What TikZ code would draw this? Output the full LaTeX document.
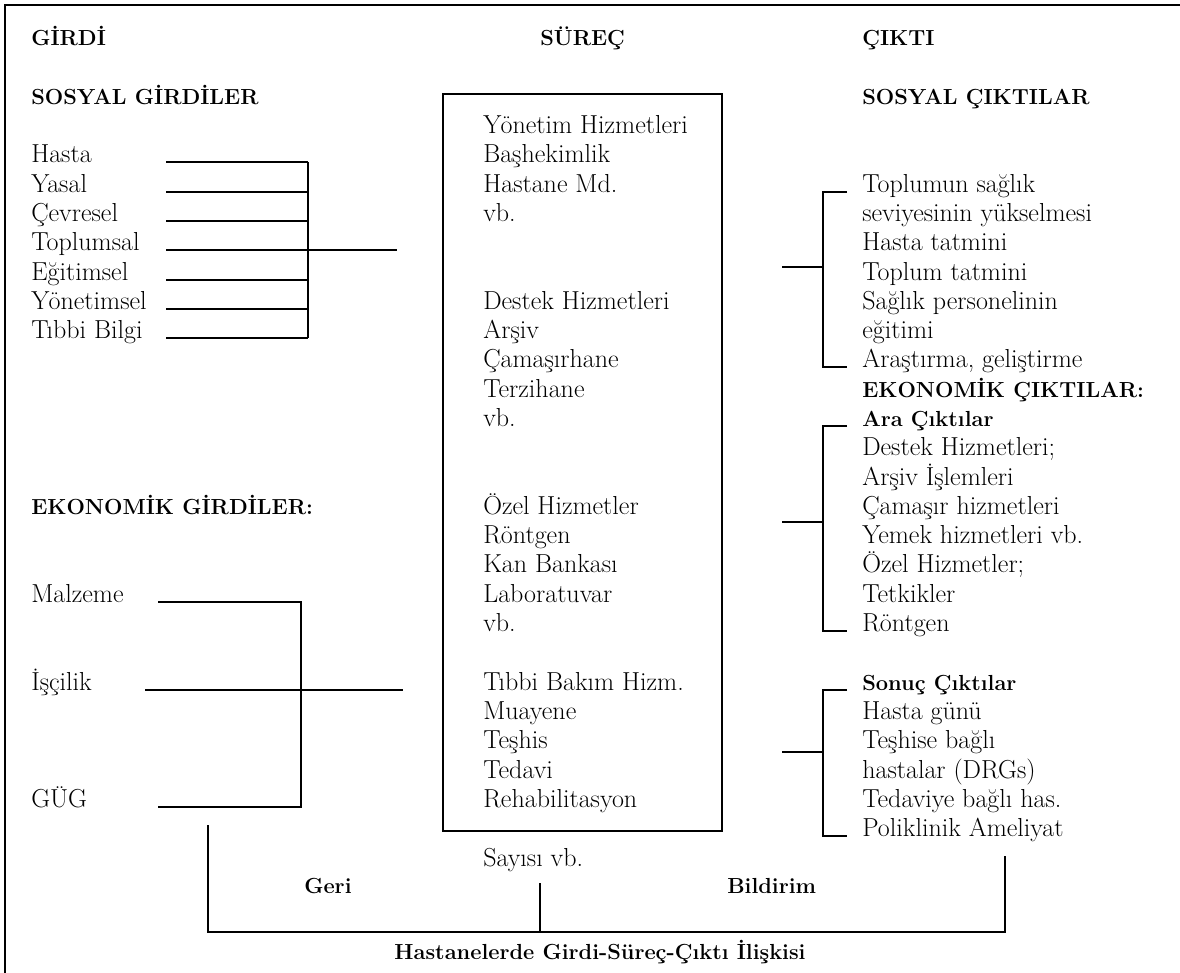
\documentclass[tikz,border=0pt]{standalone}
\usepackage{tikz}
\usetikzlibrary{positioning}

\begin{document}
\begin{tikzpicture}[
    x=0.025cm, y=-0.025cm,
    item/.style={anchor=base west, inner sep=0pt, font=\fontsize{18.5}{22}\selectfont},
    head/.style={anchor=base west, inner sep=0pt, font=\fontsize{15.5}{18}\selectfont\bfseries},
    procbox/.style={rectangle, draw=black, line width=1.3pt, inner sep=0pt,
                    minimum width=6.975cm, minimum height=18.425cm},
    wire/.style={line width=1.3pt}
]
    \useasboundingbox (0,0) rectangle (1180,973);

    % === Frame (top and left edge) ===
    \draw[wire] (5,973) -- (5,5) -- (1180,5);

    % === Column heads ===
    \node[head] (girdi) at (31,45) {GİRDİ};
    \node[head] (surec) at (540,45) {SÜREÇ};
    \node[head] (cikti) at (862,45) {ÇIKTI};
    \node[head] (sosgir) at (31,104) {SOSYAL GİRDİLER};
    \node[head] (soscik) at (862,104) {SOSYAL ÇIKTILAR};

    % === Social inputs ===
    \node[item] (hasta) at (31,162) {Hasta};
    \node[item] (yasal) at (31,192) {Yasal};
    \node[item] (cevre) at (31,221) {Çevresel};
    \node[item] (toplum) at (31,250) {Toplumsal};
    \node[item] (egitim) at (31,280) {Eğitimsel};
    \node[item] (yonet) at (31,309) {Yönetimsel};
    \node[item] (tbilgi) at (31,338) {Tıbbi Bilgi};

    \coordinate (sl) at (166,0);
    \coordinate (sj) at (308,0);
    \coordinate (so) at (397,0);
    \foreach \n in {hasta,yasal,cevre,toplum,egitim,yonet,tbilgi}
        \draw[wire] (\n.base -| sl) -- (\n.base -| sj);
    \draw[wire] (hasta.base -| sj) -- (tbilgi.base -| sj);
    \draw[wire] (toplum.base -| sj) -- (toplum.base -| so);

    % === Economic inputs ===
    \node[head] (ekogir) at (31,514) {EKONOMİK GİRDİLER:};
    \node[item] (malz) at (31,602) {Malzeme};
    \node[item] (iscil) at (31,690) {İşçilik};
    \node[item] (gug) at (31,807) {GÜG};

    \coordinate (el) at (158,0);
    \coordinate (ei) at (145,0);
    \coordinate (ej) at (301,0);
    \coordinate (eo) at (403,0);
    \draw[wire] (malz.base -| el) -- (malz.base -| ej) -- (gug.base -| ej) -- (gug.base -| el);
    \draw[wire] (iscil.base -| ei) -- (iscil.base -| eo);

    % === Process box ===
    \node[procbox] (proc) at (582.5,462.5) {};

    \node[item] (yonh) at (483,133) {Yönetim Hizmetleri};
    \node[item] (bashek) at (483,162) {Başhekimlik};
    \node[item] (hmd) at (483,192) {Hastane Md.};
    \node[item] (vba) at (483,221) {vb.};
    \node[item] (destek) at (483,309) {Destek Hizmetleri};
    \node[item] (arsiv) at (483,338) {Arşiv};
    \node[item] (camas) at (483,367) {Çamaşırhane};
    \node[item] (terzi) at (483,397) {Terzihane};
    \node[item] (vbb) at (483,426) {vb.};
    \node[item] (ozel) at (483,514) {Özel Hizmetler};
    \node[item] (ront) at (483,543) {Röntgen};
    \node[item] (kan) at (483,572) {Kan Bankası};
    \node[item] (lab) at (483,602) {Laboratuvar};
    \node[item] (vbc) at (483,631) {vb.};
    \node[item] (tibbi) at (483,690) {Tıbbi Bakım Hizm.};
    \node[item] (muay) at (483,719) {Muayene};
    \node[item] (teshis) at (483,748) {Teşhis};
    \node[item] (tedavi) at (483,778) {Tedavi};
    \node[item] (rehab) at (483,807) {Rehabilitasyon};
    \node[item] (sayisi) at (483,866) {Sayısı vb.};

    % === Outputs ===
    \node[item] (toplumun) at (862,192) {Toplumun sağlık};
    \node[item] (seviye) at (862,221) {seviyesinin yükselmesi};
    \node[item] (htatmin) at (862,250) {Hasta tatmini};
    \node[item] (ttatmin) at (862,280) {Toplum tatmini};
    \node[item] (person) at (862,309) {Sağlık personelinin};
    \node[item] (egitimi) at (862,338) {eğitimi};
    \node[item] (arast) at (862,367) {Araştırma, geliştirme};
    \node[head] (ekocik) at (862,397) {EKONOMİK ÇIKTILAR:};
    \node[head] (ara) at (862,426) {Ara Çıktılar};
    \node[item] (dhizm) at (862,455) {Destek Hizmetleri;};
    \node[item] (aisl) at (862,485) {Arşiv İşlemleri};
    \node[item] (chizm) at (862,514) {Çamaşır hizmetleri};
    \node[item] (yhizm) at (862,543) {Yemek hizmetleri vb.};
    \node[item] (ohizm) at (862,572) {Özel Hizmetler;};
    \node[item] (tetkik) at (862,602) {Tetkikler};
    \node[item] (ront2) at (862,631) {Röntgen};
    \node[head] (sonuc) at (862,690) {Sonuç Çıktılar};
    \node[item] (hgunu) at (862,719) {Hasta günü};
    \node[item] (tbagli) at (862,748) {Teşhise bağlı};
    \node[item] (drg) at (862,778) {hastalar (DRGs)};
    \node[item] (tedbag) at (862,807) {Tedaviye bağlı has.};
    \node[item] (polik) at (862,836) {Poliklinik Ameliyat};

    \coordinate (rb) at (823,0);
    \coordinate (rt) at (847,0);
    \coordinate (cs1) at (782,267);
    \coordinate (cs2) at (782,522);
    \coordinate (cs3) at (782,752);
    \draw[wire] (toplumun.base -| rt) -- (toplumun.base -| rb) -- (arast.base -| rb) -- (arast.base -| rt);
    \draw[wire] (cs1) -- (cs1 -| rb);
    \draw[wire] (ara.base -| rt) -- (ara.base -| rb) -- (ront2.base -| rb) -- (ront2.base -| rt);
    \draw[wire] (cs2) -- (cs2 -| rb);
    \draw[wire] (sonuc.base -| rt) -- (sonuc.base -| rb) -- (polik.base -| rb) -- (polik.base -| rt);
    \draw[wire] (cs3) -- (cs3 -| rb);

    % === Feedback ===
    \coordinate (fbl) at (208,825);
    \coordinate (fbm) at (540,883);
    \coordinate (fbr) at (1005,856);
    \coordinate (fbbase) at (0,932);
    \draw[wire] (fbl) -- (fbl |- fbbase) -- (fbr |- fbbase) -- (fbr);
    \draw[wire] (fbm) -- (fbm |- fbbase);
    \node[head] (geri) at (304,893) {Geri};
    \node[head] (bildir) at (727,893) {Bildirim};

    % Caption
    \node[head, anchor=base] (title) at (600,959) {Hastanelerde Girdi-Süreç-Çıktı İlişkisi};
\end{tikzpicture}
\end{document}
